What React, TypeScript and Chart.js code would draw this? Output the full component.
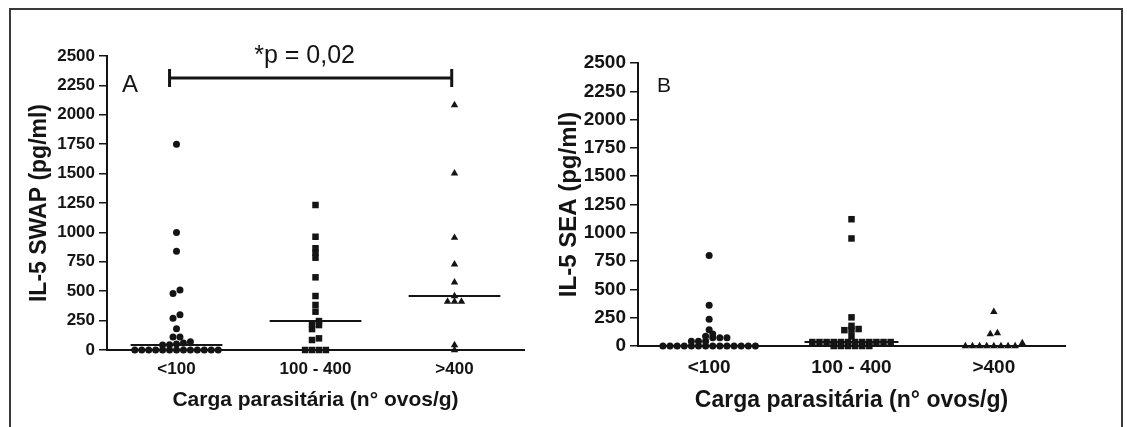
import React, { useEffect, useRef } from "react";
import { Chart, registerables } from "chart.js";

Chart.register(...registerables);

// ---------- data ----------
const CATEGORIES = ["<100", "100 - 400", ">400"];
const Y_MIN = 0;
const Y_MAX = 2500;
const Y_STEP = 250;

const X_TITLE = "Carga parasitária (n° ovos/g)";
const Y_TITLE_A = "IL-5 SWAP (pg/ml)";
const Y_TITLE_B = "IL-5 SEA (pg/ml)";
const P_TEXT = "*p = 0,02";

// Panel A: IL-5 SWAP
const SWAP_LT100 = [1750, 1000, 840, 510, 480, 300, 270, 180, 110, 110, 70, 60, 50, 45, 42, 0, 0, 0, 0, 0, 0, 0, 0, 0, 0, 0, 0, 0];
const SWAP_100_400 = [1233, 963, 865, 827, 785, 618, 459, 383, 326, 246, 218, 212, 178, 99, 85, 0, 0, 0, 0];
const SWAP_GT400 = [2083, 1502, 955, 729, 576, 459, 411, 411, 411, 42, 0];

// Panel B: IL-5 SEA
const SEA_LT100 = [800, 360, 236, 144, 106, 86, 72, 72, 72, 43, 43, 43, 0, 0, 0, 0, 0, 0, 0, 0, 0, 0, 0, 0, 0, 0];
const SEA_100_400 = [1120, 950, 253, 178, 150, 144, 140, 86, 35, 35, 35, 35, 35, 35, 35, 35, 35, 35, 35, 35, 0, 0, 0, 0, 0, 0];
const SEA_GT400 = [302, 115, 105, 25, 0, 0, 0, 0, 0, 0, 0, 0];

// ---------- helpers ----------
const FONT = "'Liberation Sans', Arial, Helvetica, sans-serif";
const INK = "#141414";

function swarm(values: number[], group: number, gap: number, step: number) {
  const sorted = [...values].sort((a, b) => a - b);
  const pts: { x: number; y: number }[] = [];
  let i = 0;
  while (i < sorted.length) {
    const start = sorted[i];
    let j = i;
    while (j < sorted.length && sorted[j] - start <= gap) j++;
    const row = sorted.slice(i, j);
    row.forEach((v, k) => pts.push({ x: group + (k - (row.length - 1) / 2) * step, y: v }));
    i = j;
  }
  return pts;
}

function median(values: number[]) {
  const s = [...values].sort((a, b) => a - b);
  const n = s.length;
  return n % 2 ? s[(n - 1) / 2] : (s[n / 2 - 1] + s[n / 2]) / 2;
}

const STYLES = ["circle", "rect", "triangle"];
const RADII = [3.5, 4.6, 4.3];

function buildDatasets(groups: number[][], gap: number) {
  const ds: any[] = [];
  groups.forEach((vals, gi) => {
    const g = gi + 1;
    const m = median(vals);
    ds.push({
      data: [
        { x: g - 0.33, y: m },
        { x: g + 0.33, y: m },
      ],
      showLine: true,
      borderColor: INK,
      borderWidth: 2,
      pointRadius: 0,
      clip: false,
    });
    ds.push({
      data: swarm(vals, g, gap, 0.05),
      pointStyle: STYLES[gi],
      pointRadius: RADII[gi],
      backgroundColor: INK,
      borderColor: INK,
      borderWidth: 0,
      clip: false,
    });
  });
  return ds;
}

function makeOptions(cfg: {
  yTitle: string;
  pad: { left: number; top: number; right: number; bottom: number };
  yWidth: number;
  xHeight: number;
  xTickPad: number;
  tickSize: number;
  xTitleSize: number;
  yTitleSize: number;
}) {
  return {
    responsive: false,
    animation: false as const,
    devicePixelRatio: 1,
    layout: { padding: cfg.pad },
    plugins: { legend: { display: false }, tooltip: { enabled: false } },
    events: [],
    scales: {
      x: {
        type: "linear" as const,
        min: 0.5,
        max: 3.5,
        afterBuildTicks: (s: any) => {
          s.ticks = CATEGORIES.map((_, i) => ({ value: i + 1 }));
        },
        afterFit: (s: any) => {
          s.height = cfg.xHeight;
        },
        grid: { display: false, drawTicks: false },
        border: { display: true, color: INK, width: 2 },
        ticks: {
          color: INK,
          padding: cfg.xTickPad,
          maxRotation: 0,
          autoSkip: false,
          font: { family: FONT, size: cfg.tickSize, weight: "bold" as const },
          callback: (v: any) => CATEGORIES[Math.round(v) - 1] ?? "",
        },
        title: {
          display: true,
          text: X_TITLE,
          color: INK,
          padding: { top: 4, bottom: 4 },
          font: { family: FONT, size: cfg.xTitleSize, weight: "bold" as const },
        },
      },
      y: {
        type: "linear" as const,
        min: Y_MIN,
        max: Y_MAX,
        afterFit: (s: any) => {
          s.width = cfg.yWidth;
        },
        grid: {
          display: true,
          drawOnChartArea: false,
          drawTicks: true,
          tickLength: 8,
          color: INK,
          lineWidth: 1.5,
        },
        border: { display: true, color: INK, width: 2 },
        ticks: {
          stepSize: Y_STEP,
          color: INK,
          padding: 4,
          font: { family: FONT, size: cfg.tickSize, weight: "bold" as const },
          callback: (v: any) => String(v),
        },
        title: {
          display: true,
          text: cfg.yTitle,
          color: INK,
          padding: { top: 4, bottom: 4 },
          font: { family: FONT, size: cfg.yTitleSize, weight: "bold" as const },
        },
      },
    },
  };
}

const annotA = {
  id: "annotA",
  afterDatasetsDraw(chart: any) {
    const { ctx, scales, chartArea } = chart;
    const x = scales.x;
    const y = scales.y;
    const x1 = x.getPixelForValue(0.95);
    const x2 = x.getPixelForValue(2.98);
    const yb = y.getPixelForValue(2313);
    ctx.save();
    ctx.strokeStyle = INK;
    ctx.lineWidth = 3;
    ctx.beginPath();
    ctx.moveTo(x1, yb);
    ctx.lineTo(x2, yb);
    ctx.moveTo(x1, yb - 9);
    ctx.lineTo(x1, yb + 9);
    ctx.moveTo(x2, yb - 9);
    ctx.lineTo(x2, yb + 9);
    ctx.stroke();
    ctx.fillStyle = INK;
    ctx.textAlign = "center";
    ctx.textBaseline = "middle";
    ctx.font = `25px ${FONT}`;
    ctx.fillText(P_TEXT, (x1 + x2) / 2 - 6, yb - 22);
    ctx.textAlign = "left";
    ctx.font = `24px ${FONT}`;
    ctx.fillText("A", chartArea.left + 15, 85);
    ctx.restore();
  },
};

const annotB = {
  id: "annotB",
  afterDatasetsDraw(chart: any) {
    const { ctx, chartArea } = chart;
    ctx.save();
    ctx.fillStyle = INK;
    ctx.textAlign = "left";
    ctx.textBaseline = "middle";
    ctx.font = `21px ${FONT}`;
    ctx.fillText("B", chartArea.left + 19, 86);
    ctx.restore();
  },
};

export default function App() {
  const refA = useRef<HTMLCanvasElement>(null);
  const refB = useRef<HTMLCanvasElement>(null);

  useEffect(() => {
    const a = new Chart(refA.current!, {
      type: "scatter",
      data: { datasets: buildDatasets([SWAP_LT100, SWAP_100_400, SWAP_GT400], 34) },
      options: makeOptions({
        yTitle: Y_TITLE_A,
        pad: { left: 22, top: 56, right: 16, bottom: 10 },
        yWidth: 85,
        xHeight: 67,
        xTickPad: 9,
        tickSize: 17,
        xTitleSize: 21,
        yTitleSize: 23,
      }) as any,
      plugins: [annotA],
    });
    const b = new Chart(refB.current!, {
      type: "scatter",
      data: { datasets: buildDatasets([SEA_LT100, SEA_100_400, SEA_GT400], 30) },
      options: makeOptions({
        yTitle: Y_TITLE_B,
        pad: { left: 11, top: 63, right: 62, bottom: 9 },
        yWidth: 87,
        xHeight: 72,
        xTickPad: 10,
        tickSize: 19,
        xTitleSize: 23,
        yTitleSize: 24,
      }) as any,
      plugins: [annotB],
    });
    return () => {
      a.destroy();
      b.destroy();
    };
  }, []);

  return (
    <div
      style={{
        position: "absolute",
        left: 0,
        top: 0,
        width: 1127,
        height: 427,
        overflow: "hidden",
        background: "#fff",
      }}
    >
      <div
        style={{
          position: "absolute",
          left: 9,
          top: 8,
          width: 1114,
          height: 440,
          border: "2px solid #3a3a3a",
          boxSizing: "border-box",
        }}
      />
      <canvas ref={refA} width={540} height={427} style={{ position: "absolute", left: 0, top: 0 }} />
      <canvas ref={refB} width={587} height={427} style={{ position: "absolute", left: 540, top: 0 }} />
    </div>
  );
}
